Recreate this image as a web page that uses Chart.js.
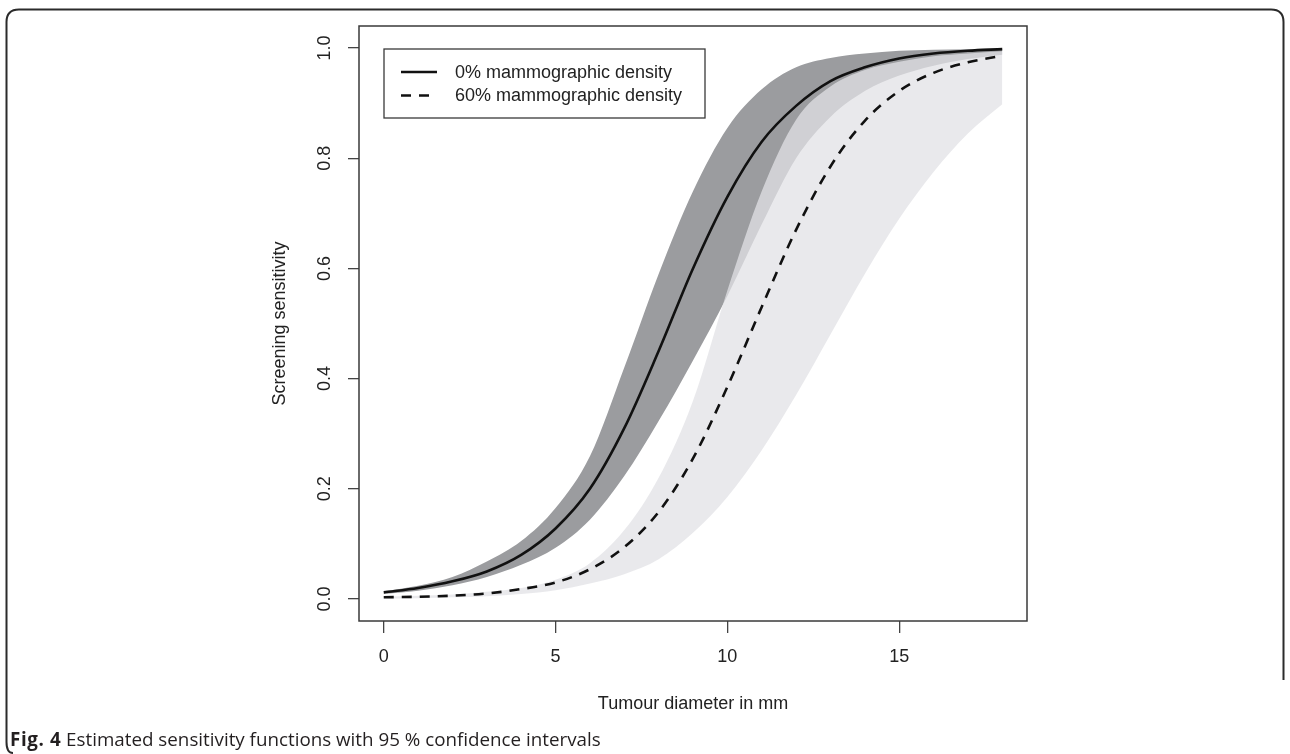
<!DOCTYPE html>
<html>
<head>
<meta charset="utf-8">
<script src="https://cdn.jsdelivr.net/npm/chart.js@4.4.0/dist/chart.umd.min.js"></script>
<style>
body { margin: 0; background: #fff; }
#wrap { position: relative; width: 1290px; height: 754px; overflow: hidden; }
#frame { position: absolute; left: 0; top: 0; }
#cap { position: absolute; left: 10px; top: 726px; font-family: "Open Sans"; font-size: 18.8px; color: #231f20; white-space: nowrap; }
#cap b { font-weight: 700; letter-spacing: 0.6px; }
canvas { position: absolute; left: 0; top: 0; }
</style>
</head>
<body>
<div id="wrap">
  <svg id="frame" width="1290" height="754">
    <path d="M 13 753 Q 6.5 753 6.5 742 L 6.5 22 Q 6.5 9.5 19 9.5 L 1271 9.5 Q 1283.5 9.5 1283.5 22 L 1283.5 680" fill="none" stroke="#2b2b2b" stroke-width="2"/>
  </svg>
  <canvas id="myChart" width="1290" height="754"></canvas>
  <div id="cap"><b>Fig. 4</b> Estimated sensitivity functions with 95 % confidence intervals</div>
</div>
<script>
// tumour diameter (mm)
const diameter = [0, 1, 2, 3, 4, 5, 6, 7, 8, 9, 10, 11, 12, 13, 14, 15, 16, 17, 18];

// 0% mammographic density: estimate and 95% CI
const sens0  = [0.012, 0.02, 0.032, 0.05, 0.08, 0.128, 0.2, 0.31, 0.45, 0.6, 0.73, 0.83, 0.895, 0.94, 0.965, 0.981, 0.99, 0.995, 0.998];
const upper0 = [0.014, 0.024, 0.04, 0.068, 0.105, 0.165, 0.259, 0.42, 0.59, 0.74, 0.855, 0.925, 0.965, 0.982, 0.99, 0.995, 0.997, 0.998, 0.999];
const lower0 = [0.009, 0.015, 0.025, 0.04, 0.062, 0.093, 0.144, 0.223, 0.323, 0.433, 0.55, 0.68, 0.80, 0.875, 0.922, 0.95, 0.968, 0.98, 0.988];

// 60% mammographic density: estimate and 95% CI
const sens60  = [0.003, 0.004, 0.006, 0.01, 0.018, 0.03, 0.054, 0.094, 0.158, 0.255, 0.385, 0.53, 0.67, 0.785, 0.868, 0.922, 0.955, 0.974, 0.986];
const upper60 = [0.004, 0.006, 0.008, 0.013, 0.02, 0.035, 0.065, 0.125, 0.22, 0.36, 0.56, 0.74, 0.87, 0.93, 0.96, 0.975, 0.985, 0.99, 0.994];
const lower60 = [0.001, 0.0015, 0.003, 0.005, 0.009, 0.016, 0.028, 0.045, 0.072, 0.12, 0.185, 0.27, 0.37, 0.48, 0.59, 0.69, 0.775, 0.845, 0.898];

const xTicks = [0, 5, 10, 15];
const yTicks = [0, 0.2, 0.4, 0.6, 0.8, 1.0];
const yTickLabels = ["0.0", "0.2", "0.4", "0.6", "0.8", "1.0"];
const seriesLabels = ["0% mammographic density", "60% mammographic density"];

const font = "'Liberation Sans', Arial, sans-serif";
const ink = "#222";
const dash = [10, 8];

function pts(arr) {
    return diameter.map((x, i) => ({x: x, y: arr[i]}));
}

function band(arr, fill, color) {
    return {
        data: pts(arr),
        borderWidth: 0,
        borderColor: "rgba(0,0,0,0)",
        pointRadius: 0,
        cubicInterpolationMode: "monotone",
        fill: fill,
        backgroundColor: color
    };
}

// box round the plot, rotated y labels and the legend, as R draws them
const rStyle = {
    id: "rStyle",
    afterDraw(chart) {
        const ctx = chart.ctx;
        const a = chart.chartArea;
        const ys = chart.scales.y;
        ctx.save();
        ctx.strokeStyle = "#3a3a3a";
        ctx.lineWidth = 1.5;
        ctx.strokeRect(a.left, a.top, a.right - a.left, a.bottom - a.top);

        ctx.font = "18px " + font;
        ctx.fillStyle = ink;
        ctx.textAlign = "center";
        ctx.textBaseline = "middle";
        yTicks.forEach((v, i) => {
            ctx.save();
            ctx.translate(a.left - 34, ys.getPixelForValue(v));
            ctx.rotate(-Math.PI / 2);
            ctx.fillText(yTickLabels[i], 0, 0);
            ctx.restore();
        });

        // legend
        const lx = a.left + 25, ly = a.top + 23;
        ctx.fillStyle = "#fff";
        ctx.fillRect(lx, ly, 321, 69);
        ctx.strokeStyle = "#3a3a3a";
        ctx.lineWidth = 1.3;
        ctx.strokeRect(lx, ly, 321, 69);
        const rows = [ly + 23, ly + 46.5];
        ctx.strokeStyle = "#111";
        ctx.lineWidth = 2.6;
        rows.forEach((y, i) => {
            ctx.setLineDash(i === 0 ? [] : dash);
            ctx.beginPath();
            ctx.moveTo(lx + 17, y);
            ctx.lineTo(lx + 53, y);
            ctx.stroke();
        });
        ctx.setLineDash([]);
        ctx.fillStyle = ink;
        ctx.textAlign = "left";
        rows.forEach((y, i) => ctx.fillText(seriesLabels[i], lx + 71, y + 1));
        ctx.restore();
    }
};

new Chart("myChart", {
    type: "line",
    data: {
        datasets: [{
            label: seriesLabels[0],
            data: pts(sens0),
            borderColor: "#111",
            borderWidth: 2.6,
            pointRadius: 0,
            cubicInterpolationMode: "monotone",
            fill: false
        }, {
            label: seriesLabels[1],
            data: pts(sens60),
            borderColor: "#111",
            borderWidth: 2.6,
            borderDash: dash,
            pointRadius: 0,
            cubicInterpolationMode: "monotone",
            fill: false
        },
        band(upper60, false),
        band(lower60, "-1", "rgba(226,226,229,0.75)"),
        band(upper0, false),
        band(lower0, "-1", "#9b9c9f")]
    },
    options: {
        responsive: false,
        animation: false,
        layout: {padding: {left: 269, right: 263, top: 26, bottom: 39}},
        plugins: {
            legend: {display: false},
            tooltip: {enabled: false},
            filler: {drawTime: "beforeDatasetsDraw"}
        },
        scales: {
            x: {
                type: "linear",
                min: -0.72,
                max: 18.72,
                afterBuildTicks: s => { s.ticks = xTicks.map(v => ({value: v})); },
                afterFit: s => { s.height = 94; },
                grid: {drawOnChartArea: false, drawTicks: true, tickLength: 12, color: "#444", lineWidth: 1.3},
                border: {display: false},
                ticks: {font: {family: font, size: 18}, color: ink, padding: 13, maxRotation: 0, autoSkip: false},
                title: {display: true, text: "Tumour diameter in mm", font: {family: font, size: 18}, color: ink, padding: {top: 0, bottom: 0}}
            },
            y: {
                type: "linear",
                min: -0.04,
                max: 1.04,
                afterBuildTicks: s => { s.ticks = yTicks.map(v => ({value: v})); },
                afterFit: s => { s.width = 90; },
                grid: {drawOnChartArea: false, drawTicks: true, tickLength: 11, color: "#444", lineWidth: 1.3},
                border: {display: false},
                ticks: {display: false},
                title: {display: true, text: "Screening sensitivity", font: {family: font, size: 18}, color: ink, padding: {top: 0, bottom: 0}}
            }
        }
    },
    plugins: [rStyle]
});
</script>
</body>
</html>
